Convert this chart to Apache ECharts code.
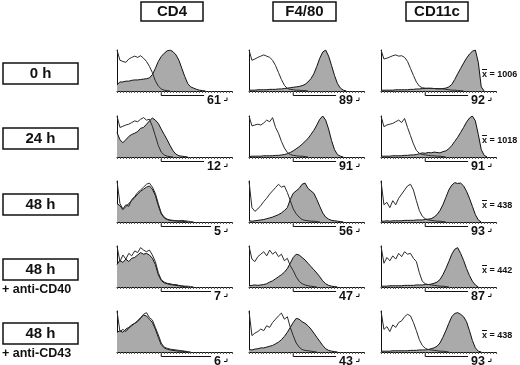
<!DOCTYPE html>
<html lang="en">
<head>
<meta charset="UTF-8">
<title>Histograms</title>
<script src="https://cdn.jsdelivr.net/npm/echarts@6/dist/echarts.min.js"></script>
<style>
  body { margin: 0; background: #fff; }
  #root { width: 520px; height: 365px; }
</style>
</head>
<body>
<div id="root"></div>
<script>
var markers = ['CD4', 'F4/80', 'CD11c'];
var times = ['0 h', '24 h', '48 h', '48 h', '48 h'];
var treatments = ['', '', '', '+ anti-CD40', '+ anti-CD43'];
var gatePct = [[61, 89, 92], [12, 91, 91], [5, 56, 93], [7, 47, 87], [6, 43, 93]];
var meanCD11c = [1006, 1018, 438, 442, 438];

// relative counts per fluorescence bin (40 bins), ctrl = open, stain = filled
var ctrl_0h_cd4 = [100, 75, 72, 70, 78, 82, 85, 82, 86, 80, 72, 60, 45, 25, 12, 5, 2, 1, 0];
var stain_0h_cd4 = [15, 22, 22, 24, 24, 26, 27, 27, 28, 29, 30, 32, 40, 55, 72, 84, 92, 98, 100, 96, 88, 75, 55, 35, 18, 10, 7, 4, 2, 1, 0];
var ctrl_0h_f480 = [100, 75, 78, 82, 85, 88, 85, 82, 75, 62, 45, 28, 14, 6, 4, 3, 2, 2, 1, 1, 0];
var stain_0h_f480 = [2, 2, 2, 3, 3, 3, 3, 4, 4, 4, 5, 5, 6, 7, 8, 9, 10, 11, 13, 16, 22, 30, 42, 60, 80, 95, 100, 85, 62, 38, 18, 7, 2, 0];
var ctrl_0h_cd11c = [100, 78, 80, 83, 86, 88, 85, 86, 82, 72, 55, 38, 22, 12, 8, 7, 6, 7, 6, 5, 6, 5, 4, 3, 2, 2, 1, 1, 0];
var stain_0h_cd11c = [2, 2, 2, 2, 2, 3, 3, 3, 3, 3, 4, 4, 5, 5, 6, 6, 7, 6, 6, 6, 5, 6, 7, 10, 16, 28, 42, 55, 68, 80, 90, 97, 100, 70, 10, 0];

var ctrl_24h_cd4 = [100, 72, 75, 78, 80, 84, 88, 86, 92, 96, 90, 92, 75, 52, 28, 12, 5, 2, 1, 0];
var stain_24h_cd4 = [60, 42, 35, 42, 50, 55, 58, 62, 70, 72, 80, 88, 95, 90, 82, 68, 55, 42, 28, 15, 7, 3, 2, 1, 0];
var ctrl_24h_f480 = [100, 76, 78, 80, 78, 83, 90, 86, 96, 72, 58, 38, 22, 11, 6, 4, 3, 2, 2, 1, 0];
var stain_24h_f480 = [1, 2, 2, 2, 2, 3, 3, 3, 3, 4, 4, 5, 6, 8, 11, 15, 20, 25, 31, 38, 45, 55, 65, 78, 92, 100, 90, 68, 40, 18, 6, 2, 0];
var ctrl_24h_cd11c = [100, 74, 78, 80, 82, 86, 90, 84, 94, 72, 52, 32, 16, 9, 6, 5, 4, 3, 3, 2, 2, 1, 0];
var stain_24h_cd11c = [2, 2, 2, 2, 3, 3, 3, 3, 4, 4, 5, 5, 6, 8, 10, 9, 11, 10, 12, 11, 10, 13, 15, 20, 28, 38, 48, 60, 72, 85, 95, 100, 88, 55, 18, 4, 0];

var ctrl_48h_cd4 = [100, 45, 32, 42, 38, 55, 62, 72, 78, 85, 92, 95, 85, 70, 45, 22, 12, 7, 5, 4, 3, 3, 4, 3, 2, 1, 0];
var stain_48h_cd4 = [45, 40, 30, 38, 45, 52, 60, 68, 75, 80, 85, 88, 80, 65, 40, 20, 10, 6, 4, 3, 3, 2, 2, 1, 0];
var ctrl_48h_f480 = [100, 35, 26, 32, 40, 50, 58, 68, 76, 84, 92, 85, 88, 72, 52, 32, 20, 12, 6, 4, 3, 2, 2, 1, 0];
var stain_48h_f480 = [3, 2, 3, 4, 5, 6, 8, 10, 12, 15, 18, 22, 28, 35, 55, 70, 76, 82, 92, 95, 82, 76, 70, 55, 38, 22, 12, 7, 4, 3, 2, 1, 0];
var ctrl_48h_cd11c = [100, 42, 48, 35, 52, 42, 58, 68, 78, 88, 92, 78, 52, 28, 14, 8, 5, 4, 3, 2, 2, 1, 0];
var stain_48h_cd11c = [2, 2, 3, 2, 3, 3, 3, 3, 4, 4, 4, 4, 5, 5, 5, 6, 7, 8, 12, 18, 28, 42, 60, 78, 90, 96, 94, 95, 88, 75, 58, 38, 18, 5, 0];

var ctrl_cd40_cd4 = [100, 62, 78, 68, 82, 76, 88, 84, 96, 90, 86, 90, 78, 62, 35, 18, 12, 9, 8, 6, 6, 4, 3, 2, 2, 1, 0];
var stain_cd40_cd4 = [55, 65, 60, 68, 62, 70, 72, 78, 84, 80, 82, 78, 70, 55, 30, 16, 10, 8, 6, 5, 4, 3, 2, 1, 0];
var ctrl_cd40_f480 = [100, 68, 62, 74, 80, 86, 76, 90, 80, 86, 74, 80, 64, 70, 52, 40, 25, 14, 8, 5, 3, 2, 1, 0];
var stain_cd40_f480 = [3, 4, 5, 4, 5, 6, 8, 12, 15, 20, 25, 30, 36, 45, 58, 72, 80, 78, 72, 66, 58, 50, 42, 34, 25, 15, 8, 4, 2, 1, 0];
var ctrl_cd40_cd11c = [100, 58, 72, 64, 76, 68, 82, 74, 86, 80, 82, 70, 62, 35, 14, 8, 6, 5, 4, 3, 2, 2, 1, 0];
var stain_cd40_cd11c = [2, 2, 2, 3, 3, 3, 3, 3, 4, 4, 4, 4, 5, 5, 5, 6, 6, 7, 9, 12, 18, 30, 45, 62, 80, 92, 96, 82, 65, 45, 28, 14, 5, 0];

var ctrl_cd43_cd4 = [100, 50, 55, 50, 58, 64, 70, 74, 82, 92, 96, 84, 78, 60, 42, 22, 12, 9, 7, 6, 5, 4, 3, 2, 1, 0];
var stain_cd43_cd4 = [48, 52, 48, 56, 60, 66, 70, 76, 84, 90, 88, 80, 72, 56, 36, 18, 10, 7, 5, 4, 3, 2, 2, 1, 0];
var ctrl_cd43_f480 = [100, 40, 46, 50, 56, 52, 64, 60, 72, 80, 88, 95, 80, 86, 60, 40, 22, 12, 6, 4, 3, 2, 1, 0];
var stain_cd43_f480 = [6, 5, 7, 8, 10, 10, 12, 14, 16, 20, 24, 30, 38, 48, 60, 72, 82, 80, 74, 70, 64, 56, 46, 36, 26, 16, 8, 4, 2, 1, 0];
var ctrl_cd43_cd11c = [100, 55, 62, 50, 66, 60, 72, 76, 86, 92, 88, 72, 52, 30, 16, 9, 6, 5, 4, 3, 2, 2, 1, 0];
var stain_cd43_cd11c = [2, 2, 2, 2, 3, 3, 3, 3, 3, 3, 4, 4, 4, 5, 5, 5, 6, 8, 10, 14, 22, 36, 52, 70, 86, 94, 96, 92, 86, 74, 52, 28, 10, 2, 0];

var panels = [
    [[ctrl_0h_cd4, stain_0h_cd4], [ctrl_0h_f480, stain_0h_f480], [ctrl_0h_cd11c, stain_0h_cd11c]],
    [[ctrl_24h_cd4, stain_24h_cd4], [ctrl_24h_f480, stain_24h_f480], [ctrl_24h_cd11c, stain_24h_cd11c]],
    [[ctrl_48h_cd4, stain_48h_cd4], [ctrl_48h_f480, stain_48h_f480], [ctrl_48h_cd11c, stain_48h_cd11c]],
    [[ctrl_cd40_cd4, stain_cd40_cd4], [ctrl_cd40_f480, stain_cd40_f480], [ctrl_cd40_cd11c, stain_cd40_cd11c]],
    [[ctrl_cd43_cd4, stain_cd43_cd4], [ctrl_cd43_f480, stain_cd43_f480], [ctrl_cd43_cd11c, stain_cd43_cd11c]]
];

var NBINS = 40;
var GATE_START = 15;
var FONT = '"Liberation Sans", Arial, sans-serif';
var colLeft = [117, 249, 381];
var rowTop = [50, 116, 181, 246, 311];
var PW = 115, PH = 41;

var chart = echarts.init(document.getElementById('root'), null, { renderer: 'canvas' });

var grids = [], xAxes = [], yAxes = [], series = [];
function toPts(arr) {
    return arr.map(function (v, i) { return [i, v]; });
}

panels.forEach(function (row, r) {
    row.forEach(function (p, c) {
        var k = grids.length;
        grids.push({ left: colLeft[c], top: rowTop[r], width: PW, height: PH });
        xAxes.push({
            type: 'value', gridIndex: k, min: 0, max: NBINS - 1, interval: 1,
            axisLine: { show: true, lineStyle: { color: '#111', width: 1 } },
            axisTick: { show: true, length: 2, lineStyle: { color: '#555', width: 1 } },
            axisLabel: { show: false }, splitLine: { show: false }
        });
        yAxes.push({
            type: 'value', gridIndex: k, min: 0, max: 100,
            axisLine: { show: true, lineStyle: { color: '#111', width: 1 } },
            axisTick: { show: false }, axisLabel: { show: false }, splitLine: { show: false }
        });
        // filled (stained) histogram
        series.push({
            type: 'line', xAxisIndex: k, yAxisIndex: k, data: toPts(p[1]),
            symbol: 'none', silent: true,
            lineStyle: { color: '#111', width: 1 },
            areaStyle: { color: '#aaaaaa', opacity: 1 }
        });
        // open (control) histogram
        series.push({
            type: 'line', xAxisIndex: k, yAxisIndex: k, data: toPts(p[0]),
            symbol: 'none', silent: true,
            lineStyle: { color: '#2a2a2a', width: 1 }
        });
    });
});

chart.setOption({
    animation: false,
    grid: grids,
    xAxis: xAxes,
    yAxis: yAxes,
    series: series
});

// annotation graphics
var ctx = document.createElement('canvas').getContext('2d');
function textW(t, font) { ctx.font = font; return ctx.measureText(t).width; }

var g = [];
var lineStyle = { stroke: '#111', lineWidth: 1, fill: null };

// column headers
var headerBox = [[141, 62], [273, 63], [406, 62]];
markers.forEach(function (m, c) {
    g.push({ type: 'rect', shape: { x: headerBox[c][0], y: 2, width: headerBox[c][1], height: 19 },
        style: { fill: '#fff', stroke: '#111', lineWidth: 1.5 } });
    g.push({ type: 'text', x: headerBox[c][0] + headerBox[c][1] / 2, y: 12,
        style: { text: m, font: 'bold 15px ' + FONT, fill: '#111',
            align: 'center', verticalAlign: 'middle', textAlign: 'center', textVerticalAlign: 'middle' } });
});

// row labels
var boxTop = [63, 128, 194, 259, 323];
var meanFont = 'bold 9px ' + FONT;
var xw = textW('x', meanFont);
times.forEach(function (t, r) {
    g.push({ type: 'rect', shape: { x: 3, y: boxTop[r], width: 75, height: 21 },
        style: { fill: '#fff', stroke: '#111', lineWidth: 1.5 } });
    g.push({ type: 'text', x: 40.5, y: boxTop[r] + 11,
        style: { text: t, font: 'bold 15px ' + FONT, fill: '#111',
            align: 'center', verticalAlign: 'middle', textAlign: 'center', textVerticalAlign: 'middle' } });
    if (treatments[r]) {
        g.push({ type: 'text', x: 2, y: boxTop[r] + 31,
            style: { text: treatments[r], font: 'bold 12.5px ' + FONT, fill: '#111',
                align: 'left', verticalAlign: 'middle', textAlign: 'left', textVerticalAlign: 'middle' } });
    }
    // mean fluorescence of CD11c
    var my = rowTop[r] + 25;
    g.push({ type: 'text', x: 482, y: my,
        style: { text: 'x = ' + meanCD11c[r], font: meanFont, fill: '#111',
            align: 'left', verticalAlign: 'middle', textAlign: 'left', textVerticalAlign: 'middle' } });
    g.push({ type: 'line', shape: { x1: 482, y1: my - 5.5, x2: 482 + xw, y2: my - 5.5 }, style: lineStyle });
});

// gates with percentages
panels.forEach(function (row, r) {
    row.forEach(function (p, c) {
        var k = r * 3 + c;
        var a = chart.convertToPixel({ gridIndex: k }, [GATE_START, 0]);
        var b = chart.convertToPixel({ gridIndex: k }, [NBINS - 1, 0]);
        var y = a[1] + 4.5;
        var label = String(gatePct[r][c]);
        var font = 'bold 12.5px ' + FONT;
        var tx = b[0] - 11;
        var tw = textW(label, font);
        g.push({ type: 'line', shape: { x1: a[0], y1: y, x2: tx - tw - 3, y2: y }, style: lineStyle });
        g.push({ type: 'line', shape: { x1: a[0], y1: y, x2: a[0], y2: y - 3 }, style: lineStyle });
        g.push({ type: 'text', x: tx, y: y + 5,
            style: { text: label, font: font, fill: '#111',
                align: 'right', verticalAlign: 'middle', textAlign: 'right', textVerticalAlign: 'middle' } });
        g.push({ type: 'polyline', shape: { points: [[b[0] - 8, y + 5], [b[0] - 5, y + 5], [b[0] - 5, y + 2]] },
            style: lineStyle });
    });
});

chart.setOption({ graphic: { elements: g } });
</script>
</body>
</html>
